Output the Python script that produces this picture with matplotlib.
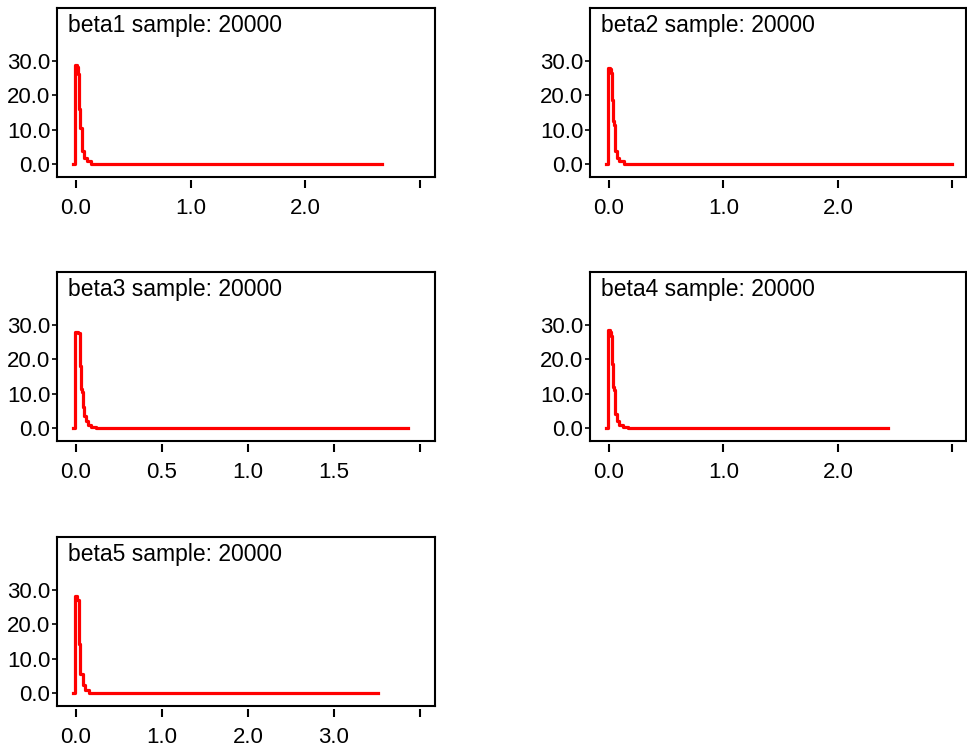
import matplotlib
matplotlib.use("Agg")
import matplotlib.pyplot as plt

plt.rcParams['font.family'] = ['Liberation Sans', 'DejaVu Sans']

# Density histograms (step outlines)
names = ['beta1', 'beta2', 'beta3', 'beta4', 'beta5']
sample_size = 20000

beta1_edges = [-0.024, -0.006, 0.008, 0.020, 0.024, 0.027, 0.030, 0.033, 0.037,
               0.052, 0.072, 0.093, 0.131, 2.67]
beta1_dens = [0.0, 28.8, 28.2, 26.1, 23.0, 19.5, 16.0, 13.0, 10.4, 3.9, 1.9, 0.9, 0.15]

beta2_edges = [-0.026, -0.009, 0.010, 0.021, 0.025, 0.029, 0.033, 0.037, 0.041,
               0.056, 0.070, 0.091, 0.128, 3.0]
beta2_dens = [0.0, 28.0, 27.6, 26.4, 22.5, 18.5, 15.0, 12.5, 11.4, 3.9, 1.9, 0.96, 0.2]

beta3_edges = [-0.016, -0.004, 0.012, 0.023, 0.026, 0.029, 0.032, 0.036, 0.039,
               0.043, 0.048, 0.058, 0.068, 0.087, 0.116, 1.93]
beta3_dens = [0.0, 27.8, 27.5, 22.3, 18.0, 14.0, 11.5, 10.5, 8.0, 6.1, 3.6, 2.1, 0.9, 0.5, 0.1]

beta4_edges = [-0.026, -0.009, 0.010, 0.021, 0.025, 0.029, 0.033, 0.037, 0.041,
               0.056, 0.070, 0.085, 0.119, 0.17, 2.44]
beta4_dens = [0.0, 28.5, 28.0, 26.6, 23.0, 18.5, 14.5, 12.0, 11.0, 4.1, 2.2, 0.9, 0.3, 0.1]

beta5_edges = [-0.031, -0.008, 0.012, 0.031, 0.035, 0.039, 0.043, 0.047, 0.078,
               0.105, 0.155, 3.51]
beta5_dens = [0.0, 28.1, 27.0, 22.9, 18.5, 14.4, 9.0, 5.7, 2.4, 0.9, 0.1]

edges_all = [beta1_edges, beta2_edges, beta3_edges, beta4_edges, beta5_edges]
dens_all = [beta1_dens, beta2_dens, beta3_dens, beta4_dens, beta5_dens]

xticks_all = [[0, 1, 2, 3], [0, 1, 2, 3], [0, 0.5, 1, 1.5, 2], [0, 1, 2, 3], [0, 1, 2, 3, 4]]
xlims = [(-0.166, 3.13), (-0.166, 3.12), (-0.110, 2.087), (-0.166, 3.12), (-0.221, 4.174)]
yticks = [0, 10, 20, 30]

fig = plt.figure(figsize=(9.67, 7.5), dpi=100)
W, H = 967.0, 750.0
lefts = [57, 590]
widths = [378, 376]
tops = [8, 272, 537]
h = 169

for i, name in enumerate(names):
    r, c = divmod(i, 2)
    ax = fig.add_axes([lefts[c] / W, 1 - (tops[r] + h) / H, widths[c] / W, h / H])
    e = edges_all[i]
    d = dens_all[i]
    ax.step(e, d + [0.0], where='post', color='#ff0000', lw=2.3)

    ax.set_xlim(*xlims[i])
    ax.set_ylim(-3.7, 45.3)
    ax.set_xticks(xticks_all[i])
    ax.set_xticklabels(['%.1f' % t for t in xticks_all[i][:-1]] + [''])
    ax.set_yticks(yticks)
    ax.set_yticklabels(['%.1f' % t for t in yticks])

    for s in ['left', 'top', 'right']:
        ax.spines[s].set_linewidth(1.5)
    # x ticks sit a little below the frame, as in the original
    ax.spines['bottom'].set_position(('outward', 2.5))
    ax.spines['bottom'].set_color('none')
    ax.plot([0, 1], [0, 0], transform=ax.transAxes, color='black', lw=1.5,
            clip_on=False, solid_capstyle='projecting')

    ax.tick_params(axis='x', direction='out', length=5.5, width=1.5, pad=7, labelsize=16)
    ax.tick_params(axis='y', direction='out', length=3.8, width=1.2, pad=1, labelsize=16)

    ax.text(0.029, 0.858, '%s sample: %d' % (name, sample_size), transform=ax.transAxes,
            fontsize=16.5, ha='left', va='baseline')

fig.savefig('out.png', dpi=100)
